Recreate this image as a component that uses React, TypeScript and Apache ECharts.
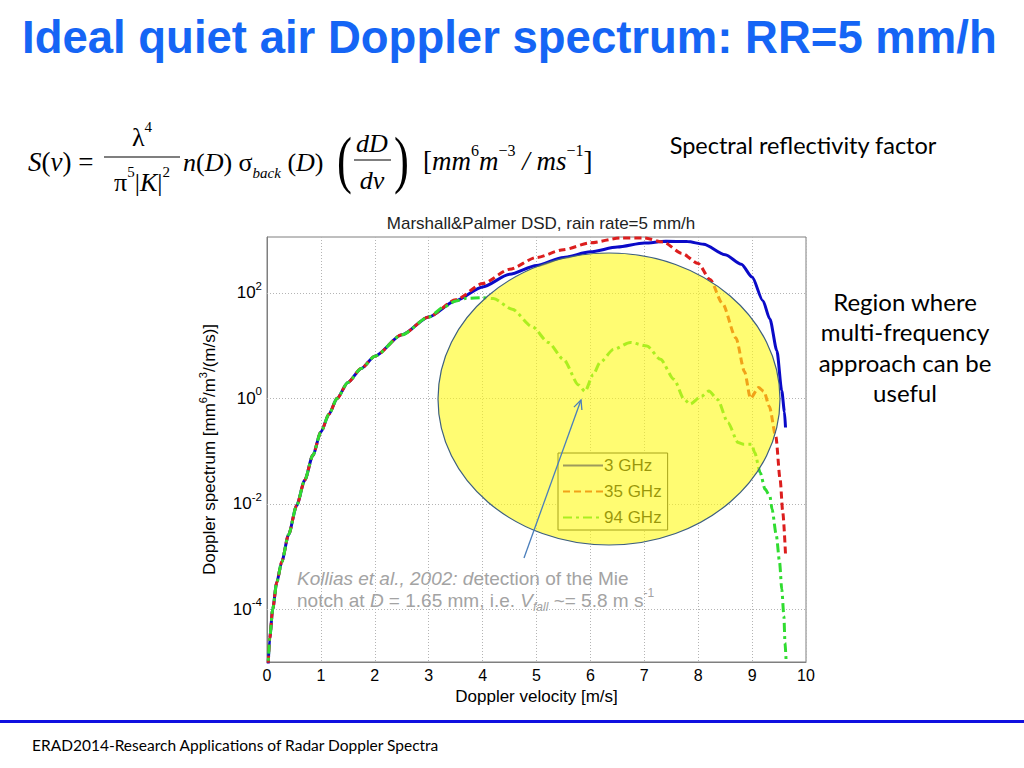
import React, { useEffect, useRef } from "react";
import * as echarts from "echarts";

// ---- data ----
const seriesNames = ["3 GHz", "35 GHz", "94 GHz"];

const v3 = [0.015, 0.05, 0.106, 0.18, 0.273, 0.4, 0.55, 0.7, 0.85, 1.0, 1.15, 1.3, 1.5, 1.75, 2.0, 2.5, 3.0, 3.5, 4.0, 4.5, 5.0, 5.5, 6.0, 6.5, 7.0, 7.4, 7.8, 8.1, 8.5, 8.8, 9.0, 9.2, 9.33, 9.46, 9.55, 9.6, 9.62];
const s3 = [6e-6, 2.8e-5, 1e-4, 3.2e-4, 7.9e-4, 2.6e-3, 9.3e-3, 2.8e-2, 8.3e-2, 0.23, 0.5, 1.0, 2.0, 3.7, 6.3, 16, 35, 71, 130, 225, 330, 470, 600, 740, 880, 950, 940, 840, 530, 350, 200, 71, 32, 8, 1.4, 0.56, 0.28];

const v35 = [0.015, 0.05, 0.106, 0.18, 0.273, 0.4, 0.55, 0.7, 0.85, 1.0, 1.15, 1.3, 1.5, 1.75, 2.0, 2.5, 3.0, 3.5, 4.0, 4.5, 5.0, 5.5, 6.0, 6.55, 7.0, 7.35, 7.7, 8.0, 8.22, 8.45, 8.7, 8.86, 8.97, 9.12, 9.22, 9.32, 9.44, 9.52, 9.57, 9.62];
const s35 = [6e-6, 2.8e-5, 1e-4, 3.2e-4, 7.9e-4, 2.6e-3, 9.3e-3, 2.8e-2, 8.3e-2, 0.23, 0.5, 1.0, 2.0, 3.7, 6.3, 16, 35, 74, 150, 280, 470, 660, 890, 1100, 1100, 920, 560, 360, 180, 63, 14, 3.2, 1.0, 1.6, 1.35, 0.7, 0.19, 0.029, 0.0068, 0.0011];

const v94 = [0.015, 0.05, 0.106, 0.18, 0.273, 0.4, 0.55, 0.7, 0.85, 1.0, 1.15, 1.3, 1.5, 1.75, 2.0, 2.5, 3.0, 3.3, 3.5, 3.7, 4.0, 4.2, 4.55, 4.92, 5.22, 5.5, 5.78, 5.9, 6.05, 6.18, 6.43, 6.74, 7.05, 7.3, 7.55, 7.74, 7.85, 8.06, 8.2, 8.36, 8.55, 8.74, 8.84, 8.99, 9.05, 9.15, 9.24, 9.33, 9.37, 9.45, 9.51, 9.55, 9.59, 9.61, 9.63];
const s94 = [6e-6, 2.8e-5, 1e-4, 3.2e-4, 7.9e-4, 2.6e-3, 9.3e-3, 2.8e-2, 8.3e-2, 0.23, 0.5, 1.0, 2.0, 3.7, 6.3, 16, 35, 55, 70, 79, 81, 78, 49, 23, 11.5, 5.5, 1.8, 1.35, 2.8, 4.8, 8.5, 11.5, 9.8, 5.5, 2.3, 0.95, 0.78, 1.1, 1.38, 0.95, 0.35, 0.145, 0.135, 0.135, 0.093, 0.039, 0.019, 0.014, 0.0079, 0.0025, 7.8e-4, 2.4e-4, 7.4e-5, 2.3e-5, 1.1e-5];

const xTicks = [0, 10, 1]; // min, max, step
const yExpRange = [-5, 3.06]; // log10 range of the axis
const labelledDecades = [-4, -2, 0, 2];

const chartFont = "Liberation Sans, Arial, sans-serif";
const slideFont = "Lato, Open Sans, sans-serif";
const serif = "Liberation Serif, Times New Roman, serif";

function toLog(v: number[], s: number[]) {
  return v.map((x, i) => [x, Math.log10(s[i])]);
}

export default function App() {
  const ref = useRef<HTMLDivElement>(null);
  useEffect(() => {
    document.body.style.margin = "0";
    const chart = echarts.init(ref.current!, undefined, { renderer: "svg" });

    // arrow geometry (annotation)
    const a0 = [524, 558];
    const a1 = [581, 400];
    const dx = a1[0] - a0[0];
    const dy = a1[1] - a0[1];
    const len = Math.hypot(dx, dy);
    const bx = -dx / len;
    const by = -dy / len;
    const ang = (25 * Math.PI) / 180;
    const wing = 10;
    const w1 = [a1[0] + wing * (bx * Math.cos(ang) - by * Math.sin(ang)), a1[1] + wing * (bx * Math.sin(ang) + by * Math.cos(ang))];
    const w2 = [a1[0] + wing * (bx * Math.cos(-ang) - by * Math.sin(-ang)), a1[1] + wing * (bx * Math.sin(-ang) + by * Math.cos(-ang))];

    const supRich = {
      b: { fontSize: 17, lineHeight: 26, fontFamily: chartFont, color: "#000" },
      sup: { fontSize: 11.5, verticalAlign: "top", fontFamily: chartFont, color: "#000" },
    };

    const serifRich = (size: number) => ({
      n: { fontSize: size, fontFamily: serif, fill: "#000", lineHeight: size + 10 },
      i: { fontSize: size, fontFamily: serif, fontStyle: "italic", fill: "#000", lineHeight: size + 10 },
      sup: { fontSize: Math.round(size * 0.58), fontFamily: serif, fill: "#000", verticalAlign: "top" },
      sub: { fontSize: Math.round(size * 0.58), fontFamily: serif, fontStyle: "italic", fill: "#000", verticalAlign: "bottom" },
    });

    const gray = "#a3a3a3";
    const grayRich = {
      n: { fontSize: 19, fontFamily: chartFont, fill: gray, lineHeight: 26 },
      i: { fontSize: 19, fontFamily: chartFont, fill: gray, fontStyle: "italic", lineHeight: 26 },
      sub: { fontSize: 12, fontFamily: chartFont, fill: gray, fontStyle: "italic", verticalAlign: "bottom" },
      sup: { fontSize: 12, fontFamily: chartFont, fill: gray, verticalAlign: "top" },
    };

    const gridDotted = { color: "#b4b4b4", type: [1, 2], width: 1 };

    chart.setOption({
      animation: false,
      backgroundColor: "#fff",
      title: {
        text: "Marshall&Palmer DSD, rain rate=5 mm/h",
        left: 536,
        top: 210,
        textAlign: "center",
        textStyle: { fontFamily: chartFont, fontSize: 17, fontWeight: "normal", color: "#222" },
      },
      grid: {
        left: 267,
        right: 218,
        top: 237,
        bottom: 106,
        show: true,
        borderColor: "#7f7f7f",
        borderWidth: 1,
        backgroundColor: "transparent",
      },
      legend: {
        orient: "vertical",
        left: 558,
        top: 453,
        itemWidth: 40,
        itemHeight: 14,
        itemGap: 9,
        padding: [4, 6, 4, 4],
        backgroundColor: "#fff",
        borderColor: "#222",
        borderWidth: 1,
        borderRadius: 0,
        itemStyle: { opacity: 0 },
        textStyle: { fontFamily: chartFont, fontSize: 17, color: "#000", padding: [0, 0, 0, -4] },
        data: seriesNames,
      },
      xAxis: {
        type: "value",
        min: xTicks[0],
        max: xTicks[1],
        interval: xTicks[2],
        name: "Doppler velocity [m/s]",
        nameLocation: "middle",
        nameGap: 20,
        nameTextStyle: { fontFamily: chartFont, fontSize: 17, color: "#000" },
        axisLine: { show: true, onZero: false, lineStyle: { color: "#7f7f7f" } },
        axisTick: { show: false },
        axisLabel: { fontFamily: chartFont, fontSize: 16, color: "#000", margin: 5 },
        splitLine: { show: true, lineStyle: gridDotted },
      },
      yAxis: {
        type: "value",
        min: yExpRange[0],
        max: yExpRange[1],
        interval: 1,
        name: "Doppler spectrum [mm{sup|6}/m{sup|3}/(m/s)]",
        nameLocation: "middle",
        nameGap: 34,
        nameRotate: 90,
        nameTextStyle: {
          fontFamily: chartFont,
          fontSize: 17,
          color: "#000",
          lineHeight: 24,
          rich: { sup: { fontSize: 11, verticalAlign: "top", fontFamily: chartFont, color: "#000" } },
        },
        axisLine: { show: true, onZero: false, lineStyle: { color: "#7f7f7f" } },
        axisTick: { show: false },
        axisLabel: {
          margin: 5,
          showMinLabel: false,
          showMaxLabel: false,
          formatter: (val: number) => {
            const r = Math.round(val);
            if (Math.abs(val - r) > 1e-6 || labelledDecades.indexOf(r) < 0) return "";
            return `{b|10}{sup|${r}}`;
          },
          rich: supRich,
        },
        splitLine: { show: false },
      },
      series: [
        {
          name: seriesNames[0],
          type: "line",
          data: toLog(v3, s3),
          showSymbol: false,
          symbol: "none",
          smooth: 0.25,
          smoothMonotone: "x",
          color: "#0a0ac8",
          lineStyle: { color: "#0a0ac8", width: 3 },
          z: 2,
          markLine: {
            silent: true,
            symbol: ["none", "none"],
            label: { show: false },
            lineStyle: gridDotted,
            emphasis: { disabled: true },
            z: 1,
            data: labelledDecades.map((e) => ({ yAxis: e })),
          },
        },
        {
          name: seriesNames[1],
          type: "line",
          data: toLog(v35, s35),
          showSymbol: false,
          symbol: "none",
          smooth: 0.25,
          smoothMonotone: "x",
          color: "#dc1e1e",
          lineStyle: { color: "#dc1e1e", width: 3, type: [7, 4] },
          z: 3,
        },
        {
          name: seriesNames[2],
          type: "line",
          data: toLog(v94, s94),
          showSymbol: false,
          symbol: "none",
          smooth: 0.25,
          smoothMonotone: "x",
          color: "#30dc30",
          lineStyle: { color: "#30dc30", width: 3, type: [9, 4, 3, 4] },
          z: 4,
        },
      ],
      graphic: {
        elements: [
          // yellow region overlay
          {
            type: "ellipse",
            shape: { cx: 609, cy: 399, rx: 171, ry: 146 },
            style: { fill: "rgba(255,250,20,0.6)", stroke: "#3d5f80", lineWidth: 1.2 },
            z: 100,
          },
          // arrow
          {
            type: "line",
            shape: { x1: a0[0], y1: a0[1], x2: a1[0], y2: a1[1] },
            style: { stroke: "#4a7ebb", lineWidth: 1.3 },
            z: 110,
          },
          {
            type: "polyline",
            shape: { points: [w1, a1, w2] },
            style: { stroke: "#4a7ebb", lineWidth: 1.3, fill: null },
            z: 110,
          },
          // Slide title
          {
            type: "text",
            x: 22,
            y: 37,
            style: {
              text: "Ideal quiet air Doppler spectrum: RR=5 mm/h",
              fontFamily: chartFont,
              fontSize: 45.5,
              fontWeight: "bold",
              fill: "#1565f5",
              verticalAlign: "middle",
            },
            z: 120,
          },
          // Formula
          {
            type: "text",
            x: 28,
            y: 162,
            style: { text: "{i|S}{n|(}{i|v}{n|) =}", rich: serifRich(27), verticalAlign: "middle" },
            z: 120,
          },
          {
            type: "text",
            x: 142,
            y: 137,
            style: { text: "{n|λ}{sup|4}", rich: serifRich(26), align: "center", verticalAlign: "middle" },
            z: 120,
          },
          { type: "line", shape: { x1: 104, y1: 157, x2: 180, y2: 157 }, style: { stroke: "#000", lineWidth: 1.2 }, z: 120 },
          {
            type: "text",
            x: 142,
            y: 182,
            style: { text: "{n|π}{sup|5}{n||}{i|K}{n||}{sup|2}", rich: serifRich(26), align: "center", verticalAlign: "middle" },
            z: 120,
          },
          {
            type: "text",
            x: 183,
            y: 162,
            style: { text: "{i|n}{n|(}{i|D}{n|) σ}{sub|back}{n| (}{i|D}{n|)}", rich: serifRich(26), verticalAlign: "middle" },
            z: 120,
          },
          {
            type: "text",
            x: 337,
            y: 160,
            style: { text: "(", fontFamily: serif, fontSize: 64, fill: "#000", verticalAlign: "middle" },
            scaleX: 0.7,
            z: 120,
          },
          {
            type: "text",
            x: 394,
            y: 160,
            style: { text: ")", fontFamily: serif, fontSize: 64, fill: "#000", verticalAlign: "middle" },
            scaleX: 0.7,
            z: 120,
          },
          {
            type: "text",
            x: 372,
            y: 143,
            style: { text: "{i|dD}", rich: serifRich(26), align: "center", verticalAlign: "middle" },
            z: 120,
          },
          { type: "line", shape: { x1: 354, y1: 160, x2: 391, y2: 160 }, style: { stroke: "#000", lineWidth: 1.2 }, z: 120 },
          {
            type: "text",
            x: 372,
            y: 180,
            style: { text: "{i|dv}", rich: serifRich(26), align: "center", verticalAlign: "middle" },
            z: 120,
          },
          {
            type: "text",
            x: 423,
            y: 161,
            style: {
              text: "{n|[}{i|mm}{sup|6}{i|m}{sup|−3}{i| / ms}{sup|−1}{n|]}",
              rich: serifRich(27),
              verticalAlign: "middle",
            },
            z: 120,
          },
          // right-hand texts
          {
            type: "text",
            x: 803,
            y: 145,
            style: { text: "Spectral reflectivity factor", fontFamily: slideFont, fontSize: 23.5, fill: "#000", align: "center", verticalAlign: "middle" },
            z: 120,
          },
          {
            type: "text",
            x: 905,
            y: 347,
            style: {
              text: "Region where\nmulti-frequency\napproach can be\nuseful",
              fontFamily: slideFont,
              fontSize: 24,
              lineHeight: 30.5,
              fill: "#000",
              align: "center",
              verticalAlign: "middle",
            },
            z: 120,
          },
          // Kollias annotation
          {
            type: "text",
            x: 297,
            y: 578,
            style: { text: "{i|Kollias et al., 2002: d}{n|etection of the Mie}", rich: grayRich, fill: gray, verticalAlign: "middle" },
            z: 120,
          },
          {
            type: "text",
            x: 297,
            y: 600,
            style: {
              text: "{n|notch at }{i|D}{n| = 1.65 mm, i.e. }{i|V}{sub|fall}{n| ~= 5.8 m s}{sup|-1}",
              rich: grayRich,
              fill: gray,
              verticalAlign: "middle",
            },
            z: 120,
          },
          // footer
          { type: "rect", shape: { x: 0, y: 720, width: 1024, height: 3 }, style: { fill: "#1010e0" }, z: 120 },
          {
            type: "text",
            x: 32,
            y: 745,
            style: { text: "ERAD2014-Research Applications of Radar Doppler Spectra", fontFamily: slideFont, fontSize: 15.5, fill: "#000", verticalAlign: "middle" },
            z: 120,
          },
        ],
      },
    });
    return () => chart.dispose();
  }, []);
  return <div ref={ref} style={{ width: 1024, height: 768 }} />;
}
